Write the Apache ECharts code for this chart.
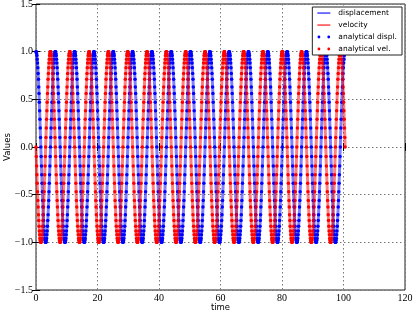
<!DOCTYPE html>
<html>
<head>
<meta charset="utf-8">
<script src="https://cdn.jsdelivr.net/npm/echarts@6/dist/echarts.min.js"></script>
<style>html,body{margin:0;padding:0;background:#fff;}#c{width:415px;height:313px;}</style>
</head>
<body>
<div id="c"></div>
<script>
// Samples are evenly spaced in time (16 periods spanning 0 .. ~100.5)
const sampleStep = 0.09817;
const xTicks = [0, 20, 40, 60, 80, 100, 120];
const yTicks = [-1.5, -1.0, -0.5, 0.0, 0.5, 1.0, 1.5];
const seriesNames = ['displacement', 'velocity', 'analytical displ.', 'analytical vel.'];

const displacement = [
1,1,.98,.96,.92,.88,.83,.77,.71,.63,.56,.47,.38,.29,.2,.1,0,-.1,-.2,-.29,-.38,-.47,-.56,-.63,-.71,-.77,-.83,-.88,-.92,-.96,-.98,-1,-1,-1,-.98,-.96,-.92,-.88,-.83,-.77,-.71,-.63,-.56,-.47,-.38,-.29,-.2,-.1,0,.1,.2,.29,.38,.47,.56,.63,.71,.77,.83,.88,.92,.96,.98,1,
1,1,.98,.96,.92,.88,.83,.77,.71,.63,.56,.47,.38,.29,.2,.1,0,-.1,-.2,-.29,-.38,-.47,-.56,-.63,-.71,-.77,-.83,-.88,-.92,-.96,-.98,-1,-1,-1,-.98,-.96,-.92,-.88,-.83,-.77,-.71,-.63,-.56,-.47,-.38,-.29,-.2,-.1,0,.1,.2,.29,.38,.47,.56,.63,.71,.77,.83,.88,.92,.96,.98,1,
1,1,.98,.96,.92,.88,.83,.77,.71,.63,.56,.47,.38,.29,.2,.1,0,-.1,-.2,-.29,-.38,-.47,-.56,-.63,-.71,-.77,-.83,-.88,-.92,-.96,-.98,-1,-1,-1,-.98,-.96,-.92,-.88,-.83,-.77,-.71,-.63,-.56,-.47,-.38,-.29,-.2,-.1,0,.1,.2,.29,.38,.47,.56,.63,.71,.77,.83,.88,.92,.96,.98,1,
1,1,.98,.96,.92,.88,.83,.77,.71,.63,.56,.47,.38,.29,.2,.1,0,-.1,-.2,-.29,-.38,-.47,-.56,-.63,-.71,-.77,-.83,-.88,-.92,-.96,-.98,-1,-1,-1,-.98,-.96,-.92,-.88,-.83,-.77,-.71,-.63,-.56,-.47,-.38,-.29,-.2,-.1,0,.1,.2,.29,.38,.47,.56,.63,.71,.77,.83,.88,.92,.96,.98,1,
1,1,.98,.96,.92,.88,.83,.77,.71,.63,.56,.47,.38,.29,.2,.1,0,-.1,-.2,-.29,-.38,-.47,-.56,-.63,-.71,-.77,-.83,-.88,-.92,-.96,-.98,-1,-1,-1,-.98,-.96,-.92,-.88,-.83,-.77,-.71,-.63,-.56,-.47,-.38,-.29,-.2,-.1,0,.1,.2,.29,.38,.47,.56,.63,.71,.77,.83,.88,.92,.96,.98,1,
1,1,.98,.96,.92,.88,.83,.77,.71,.63,.56,.47,.38,.29,.2,.1,0,-.1,-.2,-.29,-.38,-.47,-.56,-.63,-.71,-.77,-.83,-.88,-.92,-.96,-.98,-1,-1,-1,-.98,-.96,-.92,-.88,-.83,-.77,-.71,-.63,-.56,-.47,-.38,-.29,-.2,-.1,0,.1,.2,.29,.38,.47,.56,.63,.71,.77,.83,.88,.92,.96,.98,1,
1,1,.98,.96,.92,.88,.83,.77,.71,.63,.56,.47,.38,.29,.2,.1,0,-.1,-.2,-.29,-.38,-.47,-.56,-.63,-.71,-.77,-.83,-.88,-.92,-.96,-.98,-1,-1,-1,-.98,-.96,-.92,-.88,-.83,-.77,-.71,-.63,-.56,-.47,-.38,-.29,-.2,-.1,0,.1,.2,.29,.38,.47,.56,.63,.71,.77,.83,.88,.92,.96,.98,1,
1,1,.98,.96,.92,.88,.83,.77,.71,.63,.56,.47,.38,.29,.2,.1,0,-.1,-.2,-.29,-.38,-.47,-.56,-.63,-.71,-.77,-.83,-.88,-.92,-.96,-.98,-1,-1,-1,-.98,-.96,-.92,-.88,-.83,-.77,-.71,-.63,-.56,-.47,-.38,-.29,-.2,-.1,0,.1,.2,.29,.38,.47,.56,.63,.71,.77,.83,.88,.92,.96,.98,1,
1,1,.98,.96,.92,.88,.83,.77,.71,.63,.56,.47,.38,.29,.2,.1,0,-.1,-.2,-.29,-.38,-.47,-.56,-.63,-.71,-.77,-.83,-.88,-.92,-.96,-.98,-1,-1,-1,-.98,-.96,-.92,-.88,-.83,-.77,-.71,-.63,-.56,-.47,-.38,-.29,-.2,-.1,0,.1,.2,.29,.38,.47,.56,.63,.71,.77,.83,.88,.92,.96,.98,1,
1,1,.98,.96,.92,.88,.83,.77,.71,.63,.56,.47,.38,.29,.2,.1,0,-.1,-.2,-.29,-.38,-.47,-.56,-.63,-.71,-.77,-.83,-.88,-.92,-.96,-.98,-1,-1,-1,-.98,-.96,-.92,-.88,-.83,-.77,-.71,-.63,-.56,-.47,-.38,-.29,-.2,-.1,0,.1,.2,.29,.38,.47,.56,.63,.71,.77,.83,.88,.92,.96,.98,1,
1,1,.98,.96,.92,.88,.83,.77,.71,.63,.56,.47,.38,.29,.2,.1,0,-.1,-.2,-.29,-.38,-.47,-.56,-.63,-.71,-.77,-.83,-.88,-.92,-.96,-.98,-1,-1,-1,-.98,-.96,-.92,-.88,-.83,-.77,-.71,-.63,-.56,-.47,-.38,-.29,-.2,-.1,0,.1,.2,.29,.38,.47,.56,.63,.71,.77,.83,.88,.92,.96,.98,1,
1,1,.98,.96,.92,.88,.83,.77,.71,.63,.56,.47,.38,.29,.2,.1,0,-.1,-.2,-.29,-.38,-.47,-.56,-.63,-.71,-.77,-.83,-.88,-.92,-.96,-.98,-1,-1,-1,-.98,-.96,-.92,-.88,-.83,-.77,-.71,-.63,-.56,-.47,-.38,-.29,-.2,-.1,0,.1,.2,.29,.38,.47,.56,.63,.71,.77,.83,.88,.92,.96,.98,1,
1,1,.98,.96,.92,.88,.83,.77,.71,.63,.56,.47,.38,.29,.2,.1,0,-.1,-.2,-.29,-.38,-.47,-.56,-.63,-.71,-.77,-.83,-.88,-.92,-.96,-.98,-1,-1,-1,-.98,-.96,-.92,-.88,-.83,-.77,-.71,-.63,-.56,-.47,-.38,-.29,-.2,-.1,0,.1,.2,.29,.38,.47,.56,.63,.71,.77,.83,.88,.92,.96,.98,1,
1,1,.98,.96,.92,.88,.83,.77,.71,.63,.56,.47,.38,.29,.2,.1,0,-.1,-.2,-.29,-.38,-.47,-.56,-.63,-.71,-.77,-.83,-.88,-.92,-.96,-.98,-1,-1,-1,-.98,-.96,-.92,-.88,-.83,-.77,-.71,-.63,-.56,-.47,-.38,-.29,-.2,-.1,0,.1,.2,.29,.38,.47,.56,.63,.71,.77,.83,.88,.92,.96,.98,1,
1,1,.98,.96,.92,.88,.83,.77,.71,.63,.56,.47,.38,.29,.2,.1,0,-.1,-.2,-.29,-.38,-.47,-.56,-.63,-.71,-.77,-.83,-.88,-.92,-.96,-.98,-1,-1,-1,-.98,-.96,-.92,-.88,-.83,-.77,-.71,-.63,-.56,-.47,-.38,-.29,-.2,-.1,0,.1,.2,.29,.38,.47,.56,.63,.71,.77,.83,.88,.92,.96,.98,1,
1,1,.98,.96,.92,.88,.83,.77,.71,.63,.56,.47,.38,.29,.2,.1,0,-.1,-.2,-.29,-.38,-.47,-.56,-.63,-.71,-.77,-.83,-.88,-.92,-.96,-.98,-1,-1,-1,-.98,-.96,-.92,-.88,-.83,-.77,-.71,-.63,-.56,-.47,-.38,-.29,-.2,-.1,0,.1,.2,.29,.38,.47,.56,.63,.71,.77,.83,.88,.92,.96,.98,1,
1];

const velocity = [
0,-.1,-.2,-.29,-.38,-.47,-.56,-.63,-.71,-.77,-.83,-.88,-.92,-.96,-.98,-1,-1,-1,-.98,-.96,-.92,-.88,-.83,-.77,-.71,-.63,-.56,-.47,-.38,-.29,-.2,-.1,0,.1,.2,.29,.38,.47,.56,.63,.71,.77,.83,.88,.92,.96,.98,1,1,1,.98,.96,.92,.88,.83,.77,.71,.63,.56,.47,.38,.29,.2,.1,
0,-.1,-.2,-.29,-.38,-.47,-.56,-.63,-.71,-.77,-.83,-.88,-.92,-.96,-.98,-1,-1,-1,-.98,-.96,-.92,-.88,-.83,-.77,-.71,-.63,-.56,-.47,-.38,-.29,-.2,-.1,0,.1,.2,.29,.38,.47,.56,.63,.71,.77,.83,.88,.92,.96,.98,1,1,1,.98,.96,.92,.88,.83,.77,.71,.63,.56,.47,.38,.29,.2,.1,
0,-.1,-.2,-.29,-.38,-.47,-.56,-.63,-.71,-.77,-.83,-.88,-.92,-.96,-.98,-1,-1,-1,-.98,-.96,-.92,-.88,-.83,-.77,-.71,-.63,-.56,-.47,-.38,-.29,-.2,-.1,0,.1,.2,.29,.38,.47,.56,.63,.71,.77,.83,.88,.92,.96,.98,1,1,1,.98,.96,.92,.88,.83,.77,.71,.63,.56,.47,.38,.29,.2,.1,
0,-.1,-.2,-.29,-.38,-.47,-.56,-.63,-.71,-.77,-.83,-.88,-.92,-.96,-.98,-1,-1,-1,-.98,-.96,-.92,-.88,-.83,-.77,-.71,-.63,-.56,-.47,-.38,-.29,-.2,-.1,0,.1,.2,.29,.38,.47,.56,.63,.71,.77,.83,.88,.92,.96,.98,1,1,1,.98,.96,.92,.88,.83,.77,.71,.63,.56,.47,.38,.29,.2,.1,
0,-.1,-.2,-.29,-.38,-.47,-.56,-.63,-.71,-.77,-.83,-.88,-.92,-.96,-.98,-1,-1,-1,-.98,-.96,-.92,-.88,-.83,-.77,-.71,-.63,-.56,-.47,-.38,-.29,-.2,-.1,0,.1,.2,.29,.38,.47,.56,.63,.71,.77,.83,.88,.92,.96,.98,1,1,1,.98,.96,.92,.88,.83,.77,.71,.63,.56,.47,.38,.29,.2,.1,
0,-.1,-.2,-.29,-.38,-.47,-.56,-.63,-.71,-.77,-.83,-.88,-.92,-.96,-.98,-1,-1,-1,-.98,-.96,-.92,-.88,-.83,-.77,-.71,-.63,-.56,-.47,-.38,-.29,-.2,-.1,0,.1,.2,.29,.38,.47,.56,.63,.71,.77,.83,.88,.92,.96,.98,1,1,1,.98,.96,.92,.88,.83,.77,.71,.63,.56,.47,.38,.29,.2,.1,
0,-.1,-.2,-.29,-.38,-.47,-.56,-.63,-.71,-.77,-.83,-.88,-.92,-.96,-.98,-1,-1,-1,-.98,-.96,-.92,-.88,-.83,-.77,-.71,-.63,-.56,-.47,-.38,-.29,-.2,-.1,0,.1,.2,.29,.38,.47,.56,.63,.71,.77,.83,.88,.92,.96,.98,1,1,1,.98,.96,.92,.88,.83,.77,.71,.63,.56,.47,.38,.29,.2,.1,
0,-.1,-.2,-.29,-.38,-.47,-.56,-.63,-.71,-.77,-.83,-.88,-.92,-.96,-.98,-1,-1,-1,-.98,-.96,-.92,-.88,-.83,-.77,-.71,-.63,-.56,-.47,-.38,-.29,-.2,-.1,0,.1,.2,.29,.38,.47,.56,.63,.71,.77,.83,.88,.92,.96,.98,1,1,1,.98,.96,.92,.88,.83,.77,.71,.63,.56,.47,.38,.29,.2,.1,
0,-.1,-.2,-.29,-.38,-.47,-.56,-.63,-.71,-.77,-.83,-.88,-.92,-.96,-.98,-1,-1,-1,-.98,-.96,-.92,-.88,-.83,-.77,-.71,-.63,-.56,-.47,-.38,-.29,-.2,-.1,0,.1,.2,.29,.38,.47,.56,.63,.71,.77,.83,.88,.92,.96,.98,1,1,1,.98,.96,.92,.88,.83,.77,.71,.63,.56,.47,.38,.29,.2,.1,
0,-.1,-.2,-.29,-.38,-.47,-.56,-.63,-.71,-.77,-.83,-.88,-.92,-.96,-.98,-1,-1,-1,-.98,-.96,-.92,-.88,-.83,-.77,-.71,-.63,-.56,-.47,-.38,-.29,-.2,-.1,0,.1,.2,.29,.38,.47,.56,.63,.71,.77,.83,.88,.92,.96,.98,1,1,1,.98,.96,.92,.88,.83,.77,.71,.63,.56,.47,.38,.29,.2,.1,
0,-.1,-.2,-.29,-.38,-.47,-.56,-.63,-.71,-.77,-.83,-.88,-.92,-.96,-.98,-1,-1,-1,-.98,-.96,-.92,-.88,-.83,-.77,-.71,-.63,-.56,-.47,-.38,-.29,-.2,-.1,0,.1,.2,.29,.38,.47,.56,.63,.71,.77,.83,.88,.92,.96,.98,1,1,1,.98,.96,.92,.88,.83,.77,.71,.63,.56,.47,.38,.29,.2,.1,
0,-.1,-.2,-.29,-.38,-.47,-.56,-.63,-.71,-.77,-.83,-.88,-.92,-.96,-.98,-1,-1,-1,-.98,-.96,-.92,-.88,-.83,-.77,-.71,-.63,-.56,-.47,-.38,-.29,-.2,-.1,0,.1,.2,.29,.38,.47,.56,.63,.71,.77,.83,.88,.92,.96,.98,1,1,1,.98,.96,.92,.88,.83,.77,.71,.63,.56,.47,.38,.29,.2,.1,
0,-.1,-.2,-.29,-.38,-.47,-.56,-.63,-.71,-.77,-.83,-.88,-.92,-.96,-.98,-1,-1,-1,-.98,-.96,-.92,-.88,-.83,-.77,-.71,-.63,-.56,-.47,-.38,-.29,-.2,-.1,0,.1,.2,.29,.38,.47,.56,.63,.71,.77,.83,.88,.92,.96,.98,1,1,1,.98,.96,.92,.88,.83,.77,.71,.63,.56,.47,.38,.29,.2,.1,
0,-.1,-.2,-.29,-.38,-.47,-.56,-.63,-.71,-.77,-.83,-.88,-.92,-.96,-.98,-1,-1,-1,-.98,-.96,-.92,-.88,-.83,-.77,-.71,-.63,-.56,-.47,-.38,-.29,-.2,-.1,0,.1,.2,.29,.38,.47,.56,.63,.71,.77,.83,.88,.92,.96,.98,1,1,1,.98,.96,.92,.88,.83,.77,.71,.63,.56,.47,.38,.29,.2,.1,
0,-.1,-.2,-.29,-.38,-.47,-.56,-.63,-.71,-.77,-.83,-.88,-.92,-.96,-.98,-1,-1,-1,-.98,-.96,-.92,-.88,-.83,-.77,-.71,-.63,-.56,-.47,-.38,-.29,-.2,-.1,0,.1,.2,.29,.38,.47,.56,.63,.71,.77,.83,.88,.92,.96,.98,1,1,1,.98,.96,.92,.88,.83,.77,.71,.63,.56,.47,.38,.29,.2,.1,
0,-.1,-.2,-.29,-.38,-.47,-.56,-.63,-.71,-.77,-.83,-.88,-.92,-.96,-.98,-1,-1,-1,-.98,-.96,-.92,-.88,-.83,-.77,-.71,-.63,-.56,-.47,-.38,-.29,-.2,-.1,0,.1,.2,.29,.38,.47,.56,.63,.71,.77,.83,.88,.92,.96,.98,1,1,1,.98,.96,.92,.88,.83,.77,.71,.63,.56,.47,.38,.29,.2,.1,
0];

const time = displacement.map((_, i) => +(i * sampleStep).toFixed(4));
const pairs = vals => vals.map((v, i) => [time[i], v]);

const chart = echarts.init(document.getElementById('c'), null, {renderer: 'canvas'});
const serif = 'Liberation Serif';
const sans = 'DejaVu Sans';
const fmtY = v => (v < 0 ? '\u2212' : '') + Math.abs(v).toFixed(1);
const lineIcon = 'path://M0,0M13,8M0,3.5H13V4.6H0Z';
const dotsIcon = 'path://M0,0M13,8M0.2,4a1.4,1.4 0 1,0 2.8,0a1.4,1.4 0 1,0 -2.8,0ZM10,4a1.4,1.4 0 1,0 2.8,0a1.4,1.4 0 1,0 -2.8,0Z';

chart.setOption({
  animation: false,
  backgroundColor: '#fff',
  grid: {left: 36, right: 10, top: 4, bottom: 23, containLabel: false, outerBoundsMode: 'none',
         show: true, borderColor: '#222', borderWidth: 1, backgroundColor: 'transparent'},
  legend: {
    orient: 'vertical', right: 13, top: 7,
    backgroundColor: '#fff', borderColor: '#222', borderWidth: 1, borderRadius: 0,
    padding: [2, 5, 2, 5], itemGap: 4, itemWidth: 13, itemHeight: 8,
    textStyle: {fontFamily: sans, fontSize: 7.5, color: '#000', padding: [0, 0, 0, 3]},
    data: [
      {name: seriesNames[0], icon: lineIcon, itemStyle: {opacity: 1}},
      {name: seriesNames[1], icon: lineIcon, itemStyle: {opacity: 1}},
      {name: seriesNames[2], icon: dotsIcon},
      {name: seriesNames[3], icon: dotsIcon}
    ]
  },
  xAxis: [{
    type: 'value', min: xTicks[0], max: xTicks[xTicks.length - 1], interval: 20,
    name: 'time', nameLocation: 'middle', nameGap: 13, nameMoveOverlap: false,
    nameTextStyle: {fontFamily: sans, fontSize: 8.5, color: '#000'},
    axisLine: {show: false},
    axisTick: {show: true, inside: true, length: 4, lineStyle: {color: '#000'}},
    axisLabel: {fontFamily: serif, fontSize: 10, color: '#000', margin: 3},
    splitLine: {show: true, lineStyle: {color: '#777', type: [1.5, 2.5], width: 1}}
  }, {
    type: 'value', position: 'top', min: 0, max: 120, interval: 20,
    axisLine: {show: false}, axisLabel: {show: false}, splitLine: {show: false},
    axisTick: {show: true, inside: true, length: 4, lineStyle: {color: '#000'}}
  }],
  yAxis: [{
    type: 'value', min: yTicks[0], max: yTicks[yTicks.length - 1], interval: 0.5,
    name: 'Values', nameLocation: 'middle', nameGap: 24, nameMoveOverlap: false,
    nameTextStyle: {fontFamily: sans, fontSize: 8.5, color: '#000'},
    axisLine: {show: false},
    axisTick: {show: true, inside: true, length: 4, lineStyle: {color: '#000'}},
    axisLabel: {fontFamily: serif, fontSize: 10, color: '#000', margin: 3, formatter: fmtY},
    splitLine: {show: true, lineStyle: {color: '#777', type: [1.5, 2.5], width: 1}}
  }, {
    type: 'value', position: 'right', min: -1.5, max: 1.5, interval: 0.5,
    axisLine: {show: false}, axisLabel: {show: false}, splitLine: {show: false},
    axisTick: {show: true, inside: true, length: 4, lineStyle: {color: '#000'}}
  }],
  series: [
    {name: seriesNames[0], type: 'line', data: pairs(displacement), symbol: 'none', showSymbol: false,
     color: '#0000ff', lineStyle: {width: 3, opacity: 0.5, color: '#0000ff'}},
    {name: seriesNames[1], type: 'line', data: pairs(velocity), symbol: 'none', showSymbol: false,
     color: '#ff0000', lineStyle: {width: 3, opacity: 0.5, color: '#ff0000'}},
    {name: seriesNames[2], type: 'scatter', data: pairs(displacement), symbol: 'circle', symbolSize: 3.5,
     color: '#0000ff', itemStyle: {color: '#0000ff', opacity: 1}},
    {name: seriesNames[3], type: 'scatter', data: pairs(velocity), symbol: 'circle', symbolSize: 3.5,
     color: '#ff0000', itemStyle: {color: '#ff0000', opacity: 1}}
  ]
});
</script>
</body>
</html>
